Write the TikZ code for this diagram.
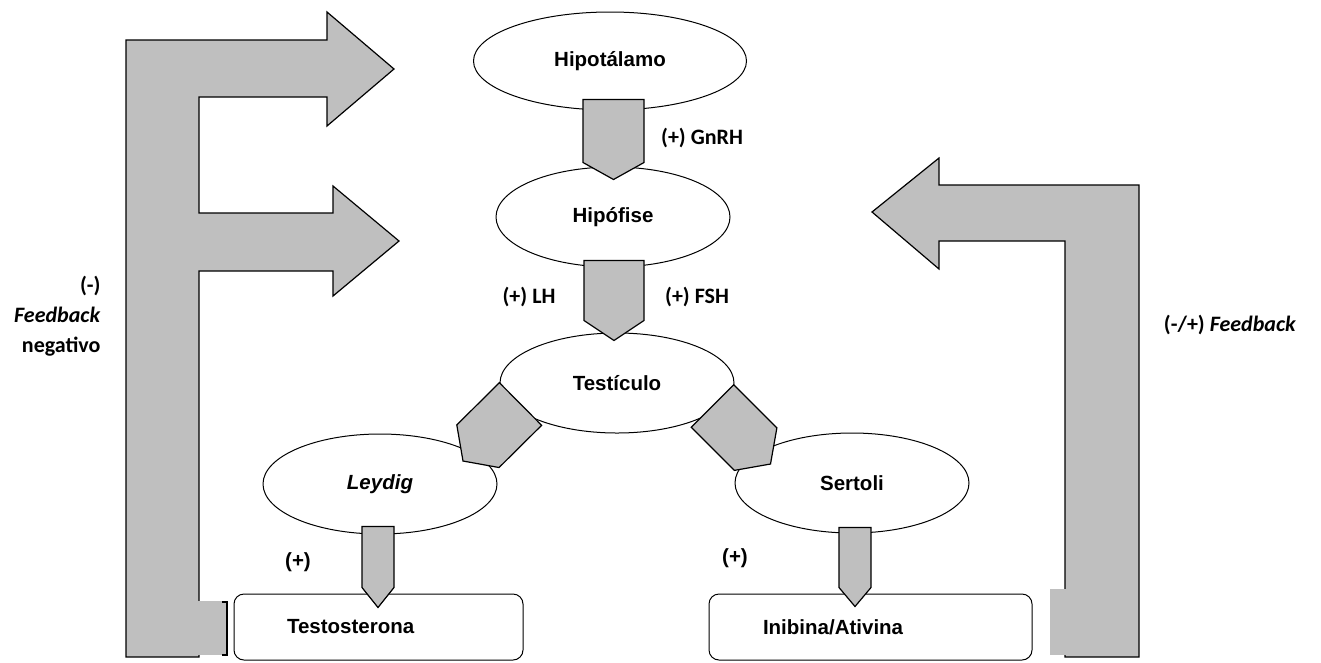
\documentclass[tikz,border=0pt]{standalone}
\usepackage{fontspec}
\setmainfont{Liberation Sans}
\newfontfamily\calibri{Carlito}
\usetikzlibrary{calc}
\usetikzlibrary{shapes.geometric}
\definecolor{arrowgrey}{RGB}{191,191,191}
\tikzset{%
  organ/.style = {ellipse,draw,line width=1pt,inner sep=0pt,
        minimum width=234pt,minimum height=100pt,
        font=\fontsize{20.5pt}{24pt}\selectfont\bfseries},
  product/.style = {rectangle,draw,rounded corners=10pt,line width=1pt,
        minimum height=66pt,inner xsep=10pt,align=left,
        font=\fontsize{20.5pt}{24pt}\selectfont\bfseries},
  blockfill/.style = {fill=arrowgrey,draw,line width=1.2pt,line join=miter},
  hormone/.style = {font=\calibri\fontsize{22pt}{30pt}\selectfont\bfseries},
  plus/.style = {font=\fontsize{20.5pt}{24pt}\selectfont\bfseries}
}
% #1 start, #2 tip, #3 half width, #4 depth of the point
\newcommand{\blockarrow}[4]{%
  \coordinate (ba-s) at ($(#2)!#4!(#1)$);
  \draw[blockfill] ($(#1)!#3!90:(#2)$) -- ($(ba-s)!#3!90:(#2)$) -- (#2)
        -- ($(ba-s)!#3!-90:(#2)$) -- ($(#1)!#3!-90:(#2)$) -- cycle;
}

\begin{document}
\begin{tikzpicture}[x=1pt,y=-1pt]
    \useasboundingbox (0,0) rectangle (1321,662);

    % feedback arrows
    \draw[blockfill] (126,40) -- (327,40) -- (327,12) -- (394,69) -- (327,126)
        -- (327,97) -- (199,97) -- (199,213) -- (333,213) -- (333,186)
        -- (399,241) -- (333,296) -- (333,271) -- (199,271) -- (199,657)
        -- (126,657) -- cycle;
    \fill[arrowgrey] (198,601) rectangle (227,655);
    \draw[line width=1.2pt] (222,602) -- (227,602) -- (227,655) -- (222,655);
    \draw[blockfill] (872,212) -- (939,158) -- (939,185) -- (1139,185)
        -- (1139,657) -- (1065,657) -- (1065,241) -- (939,241) -- (939,269)
        -- cycle;
    \fill[arrowgrey] (1050,589) rectangle (1066,655);

    % organs
    \node[organ,minimum width=273pt,minimum height=98pt] (hipot) at (610,61) {Hipot\'alamo};
    \node[organ] (hipof) at (613,217) {Hip\'ofise};
    \node[organ] (testic) at (617,383) {Test\'iculo};
    \node[organ] (leydig) at (380,484) {\textit{Leydig}};
    \node[organ] (sertoli) at (852,483) {Sertoli};

    \node[product,text width=269pt] (testo) at (378.5,627) {\hspace*{43pt}Testosterona};
    \node[product,text width=303pt] (inib) at (870.5,627) {\hspace*{44pt}Inibina/Ativina};

    % hormone arrows
    \coordinate (gnrhA) at ($(hipot.south)+(3.5,-11)$);
    \coordinate (gnrhB) at ($(hipof.north)+(0.5,13)$);
    \coordinate (gonA) at ($(hipof.south)+(1,-7)$);
    \coordinate (gonB) at ($(testic.north)+(-3,8)$);
    \coordinate (leyA) at (520.5,404);
    \coordinate (leyB) at (463,461);
    \coordinate (serA) at (712.5,406);
    \coordinate (serB) at (770.5,464);
    \coordinate (testoA) at ($(leydig.south)+(-2,-8)$);
    \coordinate (testoB) at ($(testo.north)+(-0.5,14)$);
    \coordinate (inibA) at ($(sertoli.south)+(3,-6)$);
    \coordinate (inibB) at ($(inib.north)+(-15.5,13)$);

    \blockarrow{gnrhA}{gnrhB}{30.5pt}{17pt}
    \blockarrow{gonA}{gonB}{30pt}{20pt}
    \blockarrow{leyA}{leyB}{30pt}{21pt}
    \blockarrow{serA}{serB}{30pt}{21pt}
    \blockarrow{testoA}{testoB}{16pt}{20pt}
    \blockarrow{inibA}{inibB}{16pt}{19pt}

    % labels
    \node[hormone] (gnrh) at (702,138) {(+) GnRH};
    \node[hormone] (lh) at (529,297) {(+) LH};
    \node[hormone] (fsh) at (697,297) {(+) FSH};
    \node[plus] (plusley) at (298,562) {(+)};
    \node[plus] (plusser) at (735,558) {(+)};
    \node[hormone,anchor=east,align=right] (fbneg) at (104,316)
        {(-)\\\textit{Feedback}\\negativo};
    \node[hormone] (fbmix) at (1230,325) {(-/+) \textit{Feedback}};
\end{tikzpicture}
\end{document}
